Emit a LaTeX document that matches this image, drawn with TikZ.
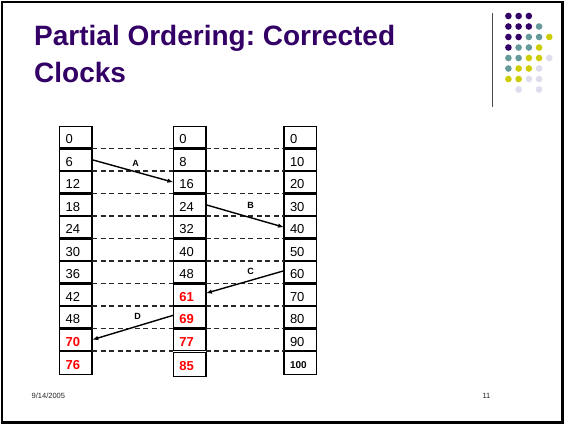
\documentclass[tikz,border=0pt]{standalone}
\usepackage{fontspec}
\setmainfont{Liberation Sans}
\usetikzlibrary{arrows.meta}
\definecolor{titlepurple}{HTML}{330066}
\definecolor{dotteal}{HTML}{669999}
\definecolor{dotyellow}{HTML}{CCCC00}
\definecolor{dotlilac}{HTML}{DDDDEE}
\definecolor{valred}{HTML}{FF0000}
\frenchspacing
\begin{document}
\begin{tikzpicture}[x=1pt,y=-1pt,
  clockbox/.style={draw, line width=1.5pt, outer sep=0pt, anchor=north west,
    minimum width=32.5pt, minimum height=21.1pt, inner xsep=6pt, inner ysep=0pt,
    text width=20.5pt, align=left, text height=13pt, text depth=0pt,
    font=\fontsize{13}{13}\selectfont},
  lastbox/.style={clockbox, minimum height=22.6pt},
  redval/.style={text=valred, font=\fontsize{13}{13}\selectfont\bfseries},
  smallbold/.style={font=\fontsize{10}{10}\selectfont\bfseries, text height=11.5pt},
  tick/.style={dash pattern=on 5pt off 3.5pt, line width=1.1pt, black!85},
  msg/.style={line width=1.4pt, -{Latex[length=6pt,width=4.5pt]}},
  msglabel/.style={font=\fontsize{9}{9}\selectfont\bfseries, inner sep=0pt},
  titletext/.style={anchor=base west, inner sep=0pt, text=titlepurple,
    font=\fontsize{28}{28}\selectfont\bfseries},
  footer/.style={inner sep=0pt, font=\fontsize{7.5}{7.5}\selectfont, text=black!85}]

\useasboundingbox (0,0) rectangle (564,424);
\fill[white] (0,0) rectangle (564,424);
\draw[line width=2.2pt] (1.6,1.6) rectangle (562.4,422.4);

% title
\node[titletext] (title1) at (34,45) {Partial Ordering: Corrected};
\node[titletext] (title2) at (34,82) {Clocks};

% decorative dot grid and rule
\draw[line width=1pt, black!70] (492,13) -- (492,107);
\foreach \i/\j/\c in {
  0/0/titlepurple,1/0/titlepurple,2/0/titlepurple,
  0/1/titlepurple,1/1/titlepurple,2/1/titlepurple,3/1/dotteal,
  0/2/titlepurple,1/2/titlepurple,2/2/dotteal,3/2/dotteal,4/2/dotyellow,
  0/3/titlepurple,1/3/dotteal,2/3/dotteal,3/3/dotyellow,
  0/4/dotteal,1/4/dotteal,2/4/dotyellow,3/4/dotyellow,4/4/dotlilac,
  0/5/dotteal,1/5/dotyellow,2/5/dotyellow,3/5/dotlilac,
  0/6/dotyellow,1/6/dotyellow,2/6/dotlilac,3/6/dotlilac,
  1/7/dotlilac,3/7/dotlilac}
  \fill[fill=\c] ({508.4+10.22*\i},{16+10.5*\j}) circle (3.3);

% process P1
\foreach \v [count=\k from 0] in {0,6,12,18,24,30,36,42,48}
  \node[clockbox] (a\k) at (59.7,{126.7+22.5*\k}) {\v};
\node[clockbox, redval] (a9) at (59.7,{126.7+22.5*9}) {70};
\node[lastbox, redval] (a10) at (59.7,{126.7+22.5*10}) {76};

% process P2
\foreach \v [count=\k from 0] in {0,8,16,24,32,40,48}
  \node[clockbox] (b\k) at (173.4,{126.7+22.5*\k}) {\v};
\node[clockbox, redval] (b7) at (173.4,{126.7+22.5*7}) {61};
\node[clockbox, redval] (b8) at (173.4,{126.7+22.5*8}) {69};
\node[clockbox, redval] (b9) at (173.4,{126.7+22.5*9}) {77};
\node[lastbox, redval, minimum height=24pt] (b10) at (173.4,{127.3+22.5*10}) {85};

% process P3
\foreach \v [count=\k from 0] in {0,10,20,30,40,50,60,70,80,90}
  \node[clockbox] (c\k) at (284,{126.7+22.5*\k}) {\v};
\node[lastbox, smallbold] (c10) at (284,{126.7+22.5*10}) {100};

% ticks joining equal instants
\foreach \k in {0,...,9} {
  \draw[tick] ([yshift=-0.7pt]a\k.south east) -- ([yshift=-0.7pt]b\k.south west);
  \draw[tick] ([yshift=-0.7pt]b\k.south east) -- ([yshift=-0.7pt]c\k.south west);
}

% messages
\draw[msg] (a1.east) -- (b2.west);
\draw[msg] (b3.east) -- (c4.west);
\draw[msg] ([yshift=1.5pt]c6.west) -- ([yshift=1.5pt]b7.east);
\draw[msg] ([yshift=2pt]b8.west) -- (a9.east);
\node[msglabel] (lA) at (135.7,163.3) {A};
\node[msglabel] (lB) at (250.7,205.7) {B};
\node[msglabel] (lC) at (250.7,271) {C};
\node[msglabel] (lD) at (137.7,316) {D};

% footer
\node[footer, anchor=west] (date) at (31.5,396) {9/14/2005};
\node[footer, anchor=east] (page) at (490.5,396) {11};
\end{tikzpicture}
\end{document}
